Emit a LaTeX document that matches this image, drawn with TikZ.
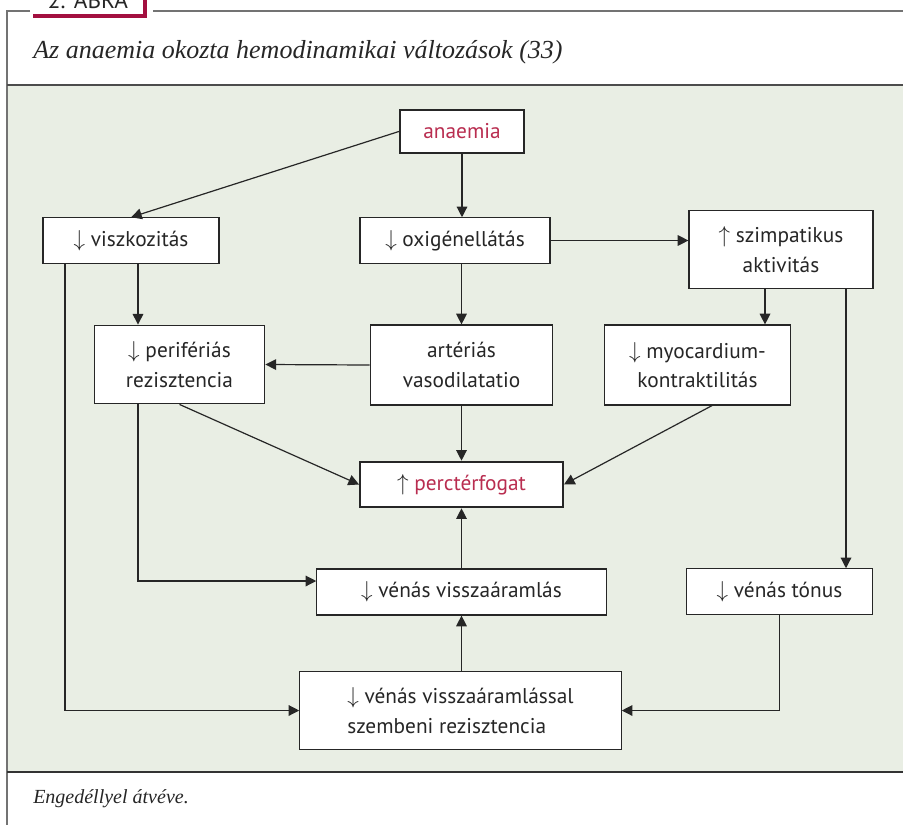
\documentclass[tikz,border=0pt]{standalone}
\usepackage{fontspec}
\setmainfont{Liberation Serif}
\setsansfont{PT Sans}
\usetikzlibrary{arrows.meta}
\definecolor{crimson}{RGB}{163,16,64}
\definecolor{redtext}{RGB}{185,45,80}
\definecolor{panel}{RGB}{233,238,228}
\begin{document}
\begin{tikzpicture}[x=0.75pt,y=-0.75pt,
		box/.style={rectangle,draw=black!85,line width=0.9pt,fill=white,text=black!85,align=center,inner sep=0pt,font=\sffamily\fontsize{16}{22}\selectfont},
		keybox/.style={box,line width=1.7pt},
		>={Triangle[length=8pt,width=8pt]}]
	\useasboundingbox (0,0) rectangle (903,825);
	\clip (0,0) rectangle (903,825);
	\fill [panel] (7,85) rectangle (903,772);
	\draw [black!55,line width=0.9pt] (30,11) -- (7,11) -- (7,825);
	\draw [black!55,line width=0.9pt] (153,11) -- (903,11);
	\draw [black!70,line width=0.9pt] (7,85) -- (903,85);
	\draw [black!80,line width=1.1pt] (7,772) -- (903,772);
	\fill [white] (33,-20) rectangle (145,14);
	\draw [crimson,line width=3pt] (145,-20) -- (145,15.5) -- (33,15.5);
	\node (label) at (88,8) [anchor=base,font=\sffamily\fontsize{17.5}{17.5}\selectfont,text=black!85] {2. ÁBRA};
	\node (title) at (33,58) [anchor=base west,font=\itshape\fontsize{19.5}{19.5}\selectfont,text=black!85,inner sep=0pt] {Az anaemia okozta hemodinamikai változások (33)};
	\node (source) at (33,803) [anchor=base west,font=\itshape\fontsize{15}{15}\selectfont,text=black!85,inner sep=0pt] {Engedéllyel átvéve.};

	\node (anaemia) at (462,131.5) [keybox,minimum width=93pt,minimum height=32pt,text=redtext] {anaemia};
	\node (viszkozitas) at (131,240.5) [box,minimum width=132pt,minimum height=34pt] {$\downarrow$ viszkozitás};
	\node (oxigen) at (455,240.5) [box,minimum width=142.5pt,minimum height=34pt] {$\downarrow$ oxigénellátás};
	\node (szimpatikus) at (781,249.5) [box,minimum width=138pt,minimum height=59pt] {$\uparrow$ szimpatikus\\aktivitás};
	\node (periferias) at (179.5,364.5) [box,minimum width=128pt,minimum height=59pt] {$\downarrow$ perifériás\\rezisztencia};
	\node (arterias) at (461.5,365) [box,minimum width=137pt,minimum height=60pt] {artériás\\vasodilatatio};
	\node (myocardium) at (697.5,365) [box,minimum width=139pt,minimum height=60pt] {$\downarrow$ myocardium-\\kontraktilitás};
	\node (perctérfogat) at (461.5,484.5) [keybox,minimum width=152pt,minimum height=34pt] {$\uparrow$ \textcolor{redtext}{perctérfogat}};
	\node (venas) at (461.5,592) [box,minimum width=217pt,minimum height=34.5pt] {$\downarrow$ vénás visszaáramlás};
	\node (tonus) at (779.5,591.5) [box,minimum width=140pt,minimum height=34pt] {$\downarrow$ vénás tónus};
	\node (szembeni) at (460.5,710.5) [box,minimum width=241pt,minimum height=59pt,align=left] {$\downarrow$ vénás visszaáramlással\\szembeni rezisztencia};

	\begin{scope}[black!85,line width=0.9pt]
		\draw [->] (anaemia.west) -- (viszkozitas.north);
		\draw [->] (anaemia.south) -- (anaemia.south |- oxigen.north);
		\draw [->] (oxigen.east) -- (szimpatikus.west |- oxigen.east);
		\draw [->] (szimpatikus.south -| 765,0) -- (myocardium.north -| 765,0);
		\draw [->] (szimpatikus.south -| 846,0) -- (tonus.north -| 846,0);
		\draw [->] (viszkozitas.south -| 138,0) -- (periferias.north -| 138,0);
		\draw [->] (viszkozitas.south -| 65,0) |- (szembeni.west);
		\draw [->] (oxigen.south -| arterias.north) -- (arterias.north);
		\draw [->] (arterias.west) -- (periferias.east);
		\draw [->] (periferias.south -| 138,0) |- (venas.west |- 0,581);
		\draw [->] (periferias.south) -- (perctérfogat.west);
		\draw [->] (arterias.south) -- (perctérfogat.north);
		\draw [->] (myocardium.south -| 712,0) -- (perctérfogat.east);
		\draw [->] (venas.north) -- (perctérfogat.south);
		\draw [->] (venas.south |- szembeni.north) -- (venas.south);
		\draw [->] (tonus.south) |- (szembeni.east);
	\end{scope}
\end{tikzpicture}
\end{document}
